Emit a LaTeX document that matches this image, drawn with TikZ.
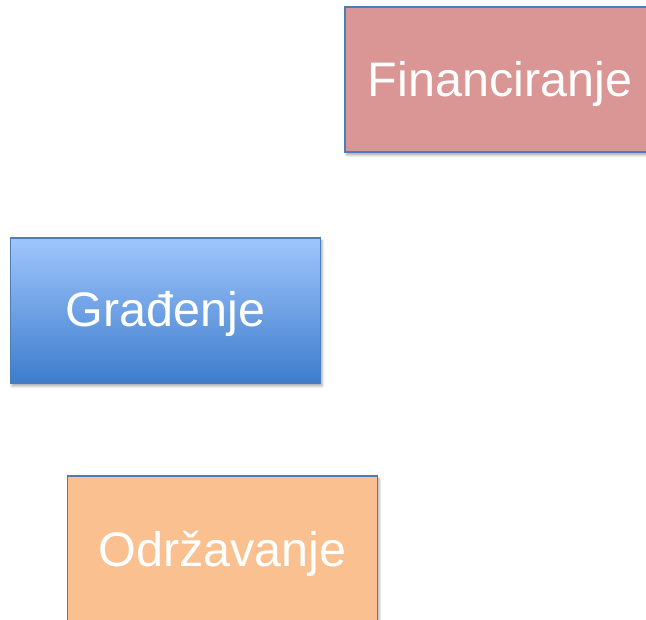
\documentclass[tikz,border=0pt]{standalone}
\usepackage{fontspec}
\setmainfont{Liberation Sans}
\usetikzlibrary{shadows.blur}
\definecolor{boxborder}{HTML}{4A7EBB}
\definecolor{finfill}{HTML}{D99694}
\definecolor{gradtop}{HTML}{A0C5FC}
\definecolor{gradbot}{HTML}{3D7DCC}
\definecolor{odrfill}{HTML}{FAC090}
\tikzset{
  box/.style={draw=boxborder, line width=1.4pt, rectangle,
    minimum width=310pt, minimum height=145pt, inner sep=0pt,
    text=white, font=\fontsize{48.5}{56}\selectfont,
    blur shadow={shadow xshift=1.5pt, shadow yshift=-3pt, shadow blur radius=2.5pt, shadow opacity=35}}
}
\newcommand{\boxtext}[2]{\raisebox{-#1pt}[0pt][0pt]{#2}}
\begin{document}
\begin{tikzpicture}[x=1pt,y=1pt]
\useasboundingbox (0,0) rectangle (646,620);
\clip (0,0) rectangle (646,620);
\node[box, fill=finfill] (fin) at (500,540.5) {\boxtext{17}{Financiranje}};
\node[box, top color=gradtop, bottom color=gradbot] (gra) at (165.5,309.5) {\boxtext{16.5}{Građenje}};
\node[box, fill=odrfill] (odr) at (222.5,71.5) {\boxtext{18}{Održavanje}};
\end{tikzpicture}
\end{document}
